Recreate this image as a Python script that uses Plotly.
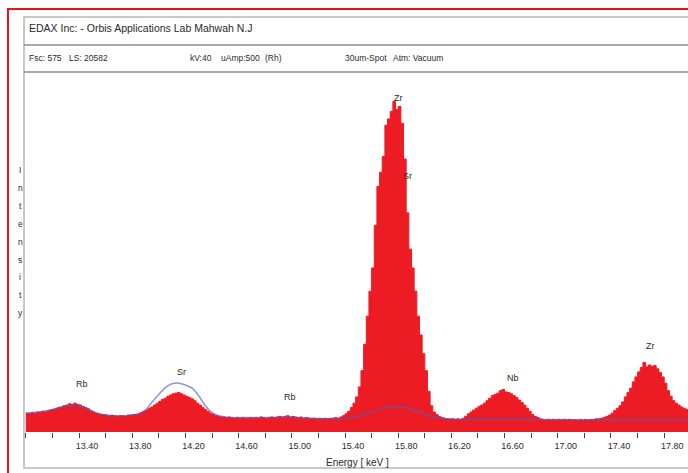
import numpy as np
import plotly.graph_objects as go

# ---------------- data ----------------
E_START = 13.00
E_STEP = 0.02
counts = [
    30, 29, 31, 30, 32, 31, 33, 32, 34, 35, 36,
    37, 39, 40, 42, 43, 45, 44, 46, 44, 43,
    41, 39, 37, 34, 32, 30, 29, 28, 28, 27,
    26, 27, 26, 25, 26, 26, 25, 27, 27, 28,
    28, 29, 31, 33, 35, 38, 40, 43, 46, 49,
    52, 54, 57, 59, 61, 62, 63, 61, 59, 57,
    55, 53, 50, 46, 43, 39, 36, 33, 30, 28,
    26, 25, 24, 24, 23, 24, 23, 22, 23, 22,
    23, 22, 22, 23, 22, 23, 22, 24, 23, 22,
    23, 24, 23, 24, 25, 24, 25, 26, 24, 25,
    24, 23, 24, 22, 23, 22, 21, 22, 21, 22,
    21, 22, 21, 22, 22, 23, 22, 24, 26, 29,
    33, 39, 46, 56, 72, 98, 140, 185, 225, 262,
    330, 392, 415, 440, 490, 500, 512, 528, 515, 520,
    493, 436, 350, 292, 262, 225, 185, 155, 125, 98,
    65, 42, 32, 28, 25, 23, 22, 21, 20, 21,
    20, 21, 20, 22, 25, 29, 32, 35, 38, 41,
    43, 46, 50, 54, 58, 60, 62, 66, 68, 64,
    63, 61, 58, 55, 51, 47, 43, 38, 33, 28,
    25, 23, 21, 20, 19, 20, 19, 20, 19, 20,
    19, 20, 19, 20, 19, 20, 19, 20, 19, 20,
    19, 20, 20, 21, 21, 22, 23, 25, 27, 30,
    34, 38, 42, 48, 56, 63, 70, 80, 88, 96,
    103, 111, 104, 107, 105, 106, 101, 95, 88, 78,
    66, 57, 50, 46, 43, 40, 38, 36, 35, 34,
]
energy = np.round(E_START + E_STEP * np.arange(len(counts)), 3)

FIT_START = 13.00
FIT_STEP = 0.05
fit_counts = [
    30, 31, 32, 34, 36, 39, 41, 42, 41, 38,
    33, 29, 27, 26, 26, 26, 27, 29, 35, 48,
    60, 71, 77, 78, 75, 70, 58, 42, 31, 26,
    24, 23, 23, 23, 23, 23, 23, 23, 23, 23,
    23, 22, 22, 22, 21, 21, 21, 21, 22, 23,
    25, 28, 31, 35, 38, 40, 40, 39, 36, 32,
    28, 25, 23, 21, 21, 20, 20, 20, 20, 20,
    20, 20, 20, 20, 20, 20, 20, 20, 20, 20,
    20, 20, 20, 19, 19, 19, 19, 19, 19, 19,
    19, 19, 19, 19, 19, 19, 19, 19, 19, 19, 19,
]
fit_energy = np.round(FIT_START + FIT_STEP * np.arange(len(fit_counts)), 3)

tick_values = [13.0, 13.2, 13.4, 13.6, 13.8, 14.0, 14.2, 14.4, 14.6, 14.8,
               15.0, 15.2, 15.4, 15.6, 15.8, 16.0, 16.2, 16.4, 16.6, 16.8,
               17.0, 17.2, 17.4, 17.6, 17.8, 18.0]
tick_labels = ["", "", "13.40", "", "13.80", "", "14.20", "", "14.60", "",
               "15.00", "", "15.40", "", "15.80", "", "16.20", "", "16.60", "",
               "17.00", "", "17.40", "", "17.80", ""]

peak_names = ["Rb", "Sr", "Rb", "Zr", "Sr", "Nb", "Zr"]
peak_energy = [13.42, 14.17, 14.99, 15.80, 15.87, 16.66, 17.70]
peak_label_y = [77, 96, 56, 533, 409, 86, 137]

header_line1 = "EDAX Inc: - Orbis Applications Lab Mahwah N.J"
header_items = ["Fsc: 575", "LS: 20582", "kV:40", "uAmp:500", "(Rh)", "30um-Spot", "Atm: Vacuum"]
header_x = [27, 67, 188, 219, 263, 343, 391]
x_title = "Energy [ keV ]"
y_title = "Intensity"

# ---------------- layout helpers (pixel -> paper) ----------------
W, H = 688, 473
L, T, B = 25, 72, 41
PW, PH = W - L, H - T - B


def px(X):
    return (X - L) / PW


def py(Y):
    return (H - B - Y) / PH


FONT = "Liberation Sans, Arial, sans-serif"
RED = "rgb(237,28,36)"
TXT = "#2a2a2a"

fig = go.Figure()
fig.add_trace(go.Scatter(
    x=energy, y=counts, mode="lines", line=dict(color=RED, width=1, shape="hv"),
    fill="tozeroy", fillcolor=RED, hoverinfo="skip", showlegend=False))
fig.add_trace(go.Scatter(
    x=fit_energy, y=fit_counts, mode="lines",
    line=dict(color="rgba(70,95,205,0.65)", width=1.5, shape="spline", smoothing=0.8),
    hoverinfo="skip", showlegend=False))

annotations = []
for name, e, yv in zip(peak_names, peak_energy, peak_label_y):
    annotations.append(dict(x=e, y=yv, xref="x", yref="y", text=name, showarrow=False,
                            font=dict(family=FONT, size=9, color=TXT)))

annotations.append(dict(x=px(27), y=py(28), xref="paper", yref="paper", text=header_line1,
                        showarrow=False, xanchor="left", yanchor="middle",
                        font=dict(family=FONT, size=10.5, color=TXT)))
for txt, hx in zip(header_items, header_x):
    annotations.append(dict(x=px(hx), y=py(58), xref="paper", yref="paper", text=txt,
                            showarrow=False, xanchor="left", yanchor="middle",
                            font=dict(family=FONT, size=8.5, color=TXT)))

annotations.append(dict(x=px(357), y=py(462), xref="paper", yref="paper", text=x_title,
                        showarrow=False, xanchor="center", yanchor="middle",
                        font=dict(family=FONT, size=10, color=TXT)))
for k, ch in enumerate(y_title):
    annotations.append(dict(x=px(20), y=py(170 + 17.9 * k), xref="paper", yref="paper", text=ch,
                            showarrow=False, xanchor="center", yanchor="middle",
                            font=dict(family=FONT, size=8.5, color=TXT)))

shapes = [
    # red outer frame (clipped right/bottom)
    dict(type="rect", xref="paper", yref="paper", x0=px(8), x1=px(720), y0=py(9), y1=py(500),
         line=dict(color="rgb(230,20,25)", width=2)),
    # gray panel
    dict(type="rect", xref="paper", yref="paper", x0=px(24), x1=px(720), y0=py(17), y1=py(468),
         line=dict(color="#b8b8b8", width=1.5)),
    dict(type="line", xref="paper", yref="paper", x0=px(24), x1=px(720), y0=py(45), y1=py(45),
         line=dict(color="#8c8c8c", width=1.5)),
    dict(type="line", xref="paper", yref="paper", x0=px(24), x1=px(720), y0=py(72), y1=py(72),
         line=dict(color="#8c8c8c", width=1.5)),
]

fig.update_layout(
    width=W, height=H,
    margin=dict(l=L, r=0, t=T, b=B, pad=0),
    paper_bgcolor="white", plot_bgcolor="white",
    showlegend=False,
    annotations=annotations, shapes=shapes,
    xaxis=dict(range=[12.994, 17.979], tickmode="array", tickvals=tick_values, ticktext=tick_labels,
               ticks="outside", ticklen=5, tickwidth=1, tickcolor="#444444",
               showgrid=False, zeroline=False, showline=False, ticklabelshift=8,
               tickfont=dict(family=FONT, size=9, color=TXT)),
    yaxis=dict(range=[0, 575], showticklabels=False, ticks="", showgrid=False,
               zeroline=False, showline=False),
)

fig.write_html("out.html", config={"displayModeBar": False},
               post_script="document.body.style.margin='0px';")
